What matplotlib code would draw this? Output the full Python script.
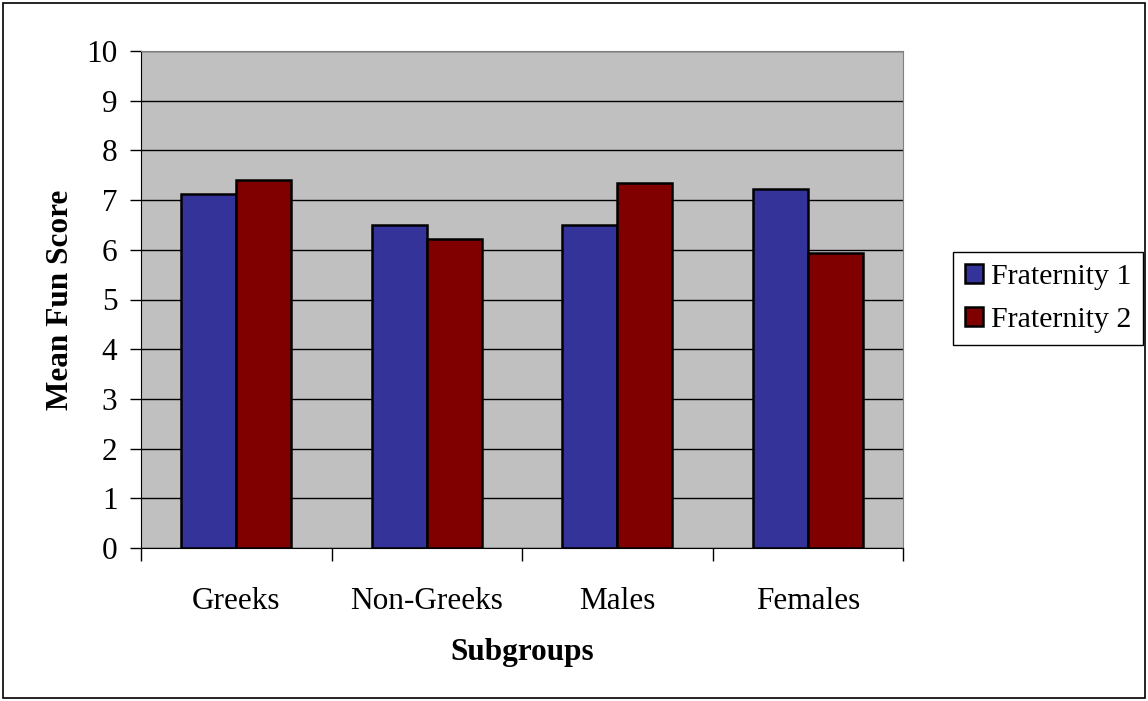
import matplotlib.pyplot as plt
import numpy as np
from matplotlib.patches import Rectangle

groups = ["Greeks", "Non-Greeks", "Males", "Females"]
frat1 = [7.13, 6.49, 6.50, 7.23]
frat2 = [7.41, 6.22, 7.34, 5.94]

plt.rcParams["font.family"] = "Liberation Serif"
fs = 22.5

fig = plt.figure(figsize=(11.48, 7.01), dpi=100)
ax = fig.add_axes([141 / 1148, 153 / 701, 762 / 1148, 497 / 701])
ax.set_facecolor("#c0c0c0")

x = np.arange(len(groups))
w = 0.29
ax.bar(x - w / 2, frat1, w, color="#333399", edgecolor="black", linewidth=1.8,
       label="Fraternity 1", zorder=3)
ax.bar(x + w / 2, frat2, w, color="#800000", edgecolor="black", linewidth=1.8,
       label="Fraternity 2", zorder=3)

ax.set_xlim(-0.5, len(groups) - 0.5)
ax.set_ylim(0, 10)
ax.set_yticks(range(0, 11))
ax.yaxis.grid(True, color="black", linewidth=1.0, zorder=1)
ax.set_axisbelow(True)

# category ticks sit on the boundaries, labels centred in between
ax.set_xticks(np.arange(-0.5, len(groups), 1.0))
ax.set_xticklabels([])
ax.set_xticks(x, minor=True)
ax.set_xticklabels(groups, minor=True, fontsize=fs)
ax.tick_params(axis="x", which="minor", length=0, pad=28)
ax.tick_params(axis="x", which="major", length=9, width=1, direction="out")
ax.tick_params(axis="y", length=8, width=1, labelsize=fs, pad=9)

for s in ["top", "right"]:
    ax.spines[s].set_color("#808080")
for s in ["left", "bottom"]:
    ax.spines[s].set_color("black")

ax.set_xlabel("Subgroups", fontsize=fs, fontweight="bold", labelpad=16)
ax.set_ylabel("Mean Fun Score", fontsize=fs, fontweight="bold", labelpad=8)

leg = ax.legend(loc="center left", bbox_to_anchor=(953 / 1148, (701 - 298.5) / 701),
                bbox_transform=fig.transFigure, borderaxespad=0, fontsize=21.5,
                handlelength=0.62, handleheight=0.62, handletextpad=0.25,
                labelspacing=0.55, borderpad=0.4, fancybox=False,
                edgecolor="black", framealpha=1)
leg.get_frame().set_linewidth(1.0)

fig.patches.append(Rectangle((3 / 1148, 3 / 701), 1142 / 1148, 695 / 701,
                             transform=fig.transFigure, fill=False,
                             edgecolor="black", linewidth=1.2))

fig.savefig("out.png", dpi=100)
